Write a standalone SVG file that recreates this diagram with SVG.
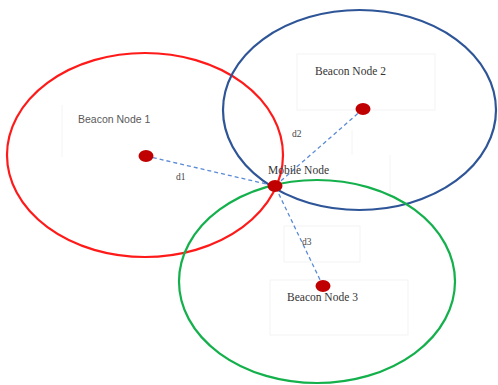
<svg xmlns="http://www.w3.org/2000/svg" width="498" height="385" viewBox="0 0 498 385">
  <style>
    .range { fill: none; stroke-width: 2.2; }
    .dot { fill: #c00000; }
    .link { stroke: #5b8bd6; stroke-width: 1.3; stroke-dasharray: 4 3; fill: none; }
    .frame { fill: none; stroke: #f1f1f1; stroke-width: 0.8; }
    .serif { font-family: "Liberation Serif", "Times New Roman", serif; font-size: 11.5px; fill: #333333; }
    .sans { font-family: "Liberation Sans", Arial, sans-serif; font-size: 10.5px; fill: #595959; }
    .small { font-family: "Liberation Serif", "Times New Roman", serif; font-size: 9.5px; fill: #444444; }
  </style>
  <rect width="498" height="385" fill="#ffffff"/>

  <!-- faint text-box outlines -->
  <g id="frames">
    <line class="frame" x1="62" y1="105" x2="62" y2="157"/>
    <rect class="frame" x="297" y="54" width="138" height="56"/>
    <line class="frame" x1="352" y1="130" x2="352" y2="155"/>
    <line class="frame" x1="390" y1="155" x2="390" y2="200"/>
    <rect class="frame" x="284" y="226" width="76" height="36"/>
    <rect class="frame" x="270" y="280" width="138" height="55"/>
  </g>

  <!-- coverage ranges -->
  <g id="ranges">
    <ellipse class="range" cx="145" cy="155" rx="138" ry="102" stroke="#ff1a1a"/>
    <ellipse class="range" cx="359.5" cy="110" rx="136.5" ry="100" stroke="#2e5597"/>
    <ellipse class="range" cx="317" cy="281.5" rx="138" ry="101.5" stroke="#14b04c"/>
  </g>

  <!-- distance links -->
  <g id="connectors">
    <line class="link" x1="146" y1="156" x2="275" y2="186"/>
    <line class="link" x1="363" y1="109" x2="275" y2="186"/>
    <line class="link" x1="323" y1="286" x2="275" y2="186"/>
    <text class="small" x="176" y="180">d1</text>
    <text class="small" x="292" y="137">d2</text>
    <text class="small" x="302" y="245">d3</text>
  </g>

  <g id="beacon1">
    <ellipse class="dot" cx="146" cy="156" rx="7.5" ry="6"/>
    <text class="sans" x="78" y="123">Beacon Node 1</text>
  </g>

  <g id="beacon2">
    <ellipse class="dot" cx="363" cy="109" rx="7.5" ry="6"/>
    <text class="serif" x="315" y="75">Beacon Node 2</text>
  </g>

  <g id="beacon3">
    <ellipse class="dot" cx="323" cy="286" rx="7.5" ry="6"/>
    <text class="serif" x="287" y="301">Beacon Node 3</text>
  </g>

  <g id="mobile">
    <ellipse class="dot" cx="275" cy="186" rx="7.5" ry="6"/>
    <text class="serif" x="268" y="174">Mobile Node</text>
  </g>
</svg>
